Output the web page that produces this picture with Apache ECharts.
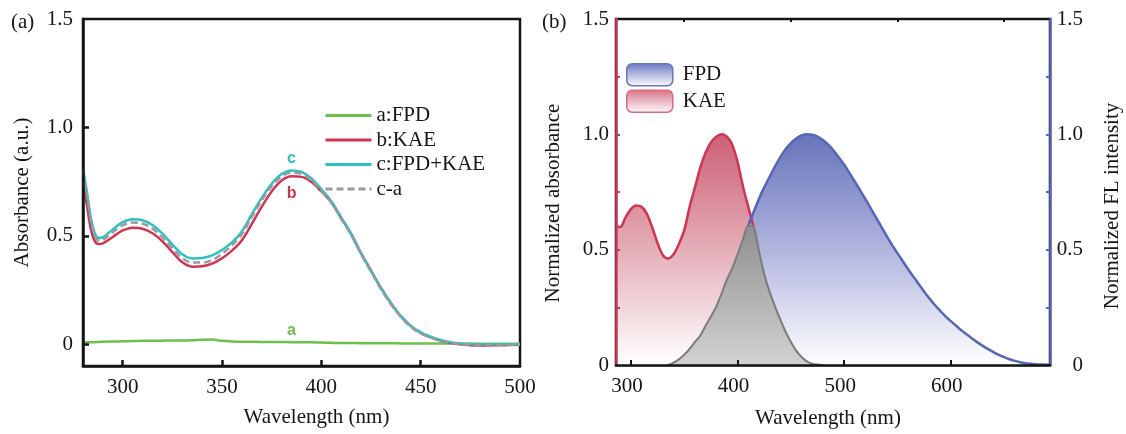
<!DOCTYPE html>
<html>
<head>
<meta charset="utf-8">
<script src="https://cdn.jsdelivr.net/npm/echarts@6/dist/echarts.min.js"></script>
<style>
  html, body { margin: 0; padding: 0; background: #ffffff; }
  #chart { width: 1126px; height: 434px; }
</style>
</head>
<body>
<div id="chart"></div>
<script>
// ---------- Panel (a): absorbance spectra ----------
const wavelengthA = [280, 282, 284, 286, 288, 290, 295, 300, 305, 310, 315, 320, 325, 330, 335, 340, 345, 350, 355, 360,
  365, 370, 375, 380, 385, 390, 395, 400, 405, 410, 415, 420, 425, 430, 435, 440, 445, 450, 455, 460,
  465, 470, 475, 480, 490, 500];
const absFPD = [0.008, 0.009, 0.010, 0.010, 0.011, 0.012, 0.013, 0.014, 0.015, 0.016, 0.016, 0.017, 0.018, 0.018, 0.019, 0.021, 0.022, 0.016, 0.013, 0.012,
  0.012, 0.011, 0.011, 0.011, 0.010, 0.010, 0.009, 0.008, 0.007, 0.006, 0.006, 0.005, 0.005, 0.005, 0.005, 0.004, 0.004, 0.004, 0.004, 0.004,
  0.004, 0.003, 0.003, 0.003, 0.003, 0.003];
const absKAE = [0.750, 0.640, 0.530, 0.475, 0.462, 0.465, 0.495, 0.525, 0.538, 0.533, 0.512, 0.475, 0.425, 0.378, 0.358, 0.360, 0.372, 0.397, 0.432, 0.480,
  0.555, 0.635, 0.705, 0.755, 0.775, 0.772, 0.748, 0.705, 0.655, 0.582, 0.508, 0.420, 0.340, 0.260, 0.190, 0.130, 0.085, 0.053, 0.032, 0.017,
  0.006, 0.000, -0.004, -0.006, -0.004, -0.002];
const absMix = [0.810, 0.700, 0.580, 0.510, 0.490, 0.493, 0.530, 0.563, 0.577, 0.572, 0.550, 0.510, 0.460, 0.415, 0.396, 0.398, 0.410, 0.435, 0.470, 0.520,
  0.600, 0.675, 0.740, 0.785, 0.802, 0.795, 0.765, 0.715, 0.660, 0.585, 0.510, 0.420, 0.340, 0.260, 0.190, 0.130, 0.085, 0.055, 0.035, 0.020,
  0.010, 0.004, 0.001, 0.000, 0.000, 0.000];
const absMixMinusFPD = [0.800, 0.690, 0.570, 0.500, 0.478, 0.481, 0.517, 0.549, 0.562, 0.556, 0.534, 0.493, 0.443, 0.397, 0.377, 0.377, 0.388, 0.418, 0.457, 0.508,
  0.588, 0.664, 0.729, 0.774, 0.792, 0.785, 0.756, 0.707, 0.653, 0.579, 0.504, 0.415, 0.335, 0.255, 0.185, 0.126, 0.081, 0.051, 0.031, 0.016,
  0.006, 0.001, -0.002, -0.003, -0.003, -0.002];
const xTicksA = [300, 350, 400, 450, 500];
const yTicksA = [0, 0.5, 1.0, 1.5];

// ---------- Panel (b): normalized KAE absorbance vs FPD emission ----------
const wavelengthB = [286, 290, 295, 300, 305, 310, 315, 320, 325, 330, 335, 340, 345, 350, 355, 360, 365, 370, 375, 380,
  385, 390, 395, 400, 405, 410, 415, 420, 425, 430, 435, 440, 445, 450, 455, 460, 465, 470, 475, 480,
  485, 490, 495, 500, 505, 510, 515, 520, 525, 530, 535, 540, 545, 550, 555, 560, 565, 570, 575, 580,
  585, 590, 595, 600, 605, 610, 615, 620, 625, 630, 635, 640, 645, 650, 655, 660, 665, 670, 675, 680,
  685, 690];
const normAbsKAE = [0.601, 0.598, 0.640, 0.676, 0.692, 0.686, 0.655, 0.596, 0.528, 0.476, 0.462, 0.480, 0.525, 0.585, 0.685, 0.770, 0.855, 0.920, 0.965, 0.990,
  1.000, 0.990, 0.955, 0.880, 0.775, 0.686, 0.600, 0.495, 0.395, 0.318, 0.255, 0.198, 0.145, 0.100, 0.062, 0.035, 0.016, 0.006, 0.002, 0.000,
  null, null, null, null, null, null, null, null, null, null, null, null, null, null, null, null, null, null, null, null,
  null, null, null, null, null, null, null, null, null, null, null, null, null, null, null, null, null, null, null, null,
  null, null];
const normFlFPD = [null, null, null, null, null, null, null, null, null, null, 0.000, 0.010, 0.025, 0.045, 0.070, 0.100, 0.128, 0.170, 0.210, 0.253,
  0.310, 0.370, 0.420, 0.480, 0.543, 0.605, 0.662, 0.720, 0.770, 0.815, 0.860, 0.900, 0.935, 0.962, 0.982, 0.995, 1.000, 0.998, 0.990, 0.975,
  0.955, 0.930, 0.900, 0.868, 0.832, 0.795, 0.757, 0.718, 0.678, 0.638, 0.598, 0.558, 0.520, 0.484, 0.450, 0.415, 0.382, 0.350, 0.318, 0.288,
  0.260, 0.235, 0.211, 0.190, 0.170, 0.150, 0.132, 0.115, 0.098, 0.083, 0.069, 0.056, 0.044, 0.034, 0.025, 0.018, 0.012, 0.008, 0.005, 0.002,
  0.001, 0.000];
const xTicksB = [300, 400, 500, 600];
const xMinorTicksB = [350, 450, 550, 650];
const yTicksB = [0.25, 0.5, 0.75, 1.0, 1.25];

// ---------- helpers ----------
const SERIF = '"Liberation Serif", "Times New Roman", serif';
const SANS = '"Liberation Sans", Arial, sans-serif';
const INK = '#151515';
const pairs = (xs, ys) => xs.map((x, i) => [x, ys[i]]);
const fmt = v => (v === 0 ? '0' : v.toFixed(1));
const vGrad = (stops) => new echarts.graphic.LinearGradient(0, 0, 0, 1,
  stops.map(([offset, color]) => ({ offset, color })));

// overlap region between the two spectra (lower of the two curves)
const overlapB = wavelengthB.map((_, i) => {
  const a = normAbsKAE[i], f = normFlFPD[i];
  if (a === null || f === null) return null;
  return Math.min(a, f);
});
// visible red edge: KAE where it lies above FPD (plus the next point)
const kaeEdge = wavelengthB.map((_, i) => {
  const above = j => normAbsKAE[j] !== null && (normFlFPD[j] === null || normAbsKAE[j] >= normFlFPD[j]);
  return (above(i) || (i > 0 && above(i - 1))) ? normAbsKAE[i] : null;
});
// visible blue edge: FPD where it lies above KAE (plus the previous point)
const fpdEdge = wavelengthB.map((_, i) => {
  const above = j => normFlFPD[j] !== null && (normAbsKAE[j] === null || normFlFPD[j] >= normAbsKAE[j]);
  return (above(i) || (i < wavelengthB.length - 1 && above(i + 1))) ? normFlFPD[i] : null;
});

const RED = '#cf3553';
const BLUE = '#5566b8';
const GREEN = '#6cc14a';
const CYAN = '#2fbfc7';
const GRAYDASH = '#9a9a9a';

const lineA = (name, ys, color, extra) => Object.assign({
  name, type: 'line', xAxisIndex: 0, yAxisIndex: 0,
  data: pairs(wavelengthA, ys), symbol: 'none', smooth: 0.35,
  lineStyle: { color, width: 2.5 }, itemStyle: { color }, silent: true
}, extra || {});

const letterMark = (letter, x, y, color) => ({
  symbol: 'rect', symbolSize: 1, silent: true,
  itemStyle: { color: 'rgba(0,0,0,0)' },
  label: { show: true, position: 'inside', formatter: letter, color,
    fontFamily: SANS, fontWeight: 'bold', fontSize: 16 },
  data: [{ coord: [x, y] }]
});

const chart = echarts.init(document.getElementById('chart'), null, { renderer: 'canvas' });

const axisText = { color: INK, fontFamily: SERIF, fontSize: 21 };

chart.setOption({
  animation: false,
  backgroundColor: '#ffffff',
  textStyle: { fontFamily: SERIF },
  graphic: [
    { type: 'text', left: 11, top: 12, style: { text: '(a)', font: '21px ' + SERIF, fill: INK } },
    { type: 'text', left: 542, top: 12, style: { text: '(b)', font: '21px ' + SERIF, fill: INK } }
  ],
  grid: [
    { left: 83, top: 19, width: 437, height: 347, show: true, borderColor: INK, borderWidth: 2.5, backgroundColor: 'transparent', z: 0 },
    { left: 616, top: 19, width: 434, height: 347, show: true, borderColor: INK, borderWidth: 2.5, backgroundColor: 'transparent', z: 0 }
  ],
  legend: [
    {
      left: 319, top: 100, orient: 'vertical',
      itemWidth: 46, itemHeight: 12, itemGap: 3.5,
      itemStyle: { opacity: 0, color: 'rgba(0,0,0,0)', borderWidth: 0 },
      lineStyle: { width: 3 },
      textStyle: { color: INK, fontFamily: SERIF, fontSize: 21, lineHeight: 21 },
      data: ['a:FPD', 'b:KAE', 'c:FPD+KAE', 'c-a'],
      selectedMode: false
    },
    {
      left: 621, top: 58, orient: 'vertical',
      icon: 'roundRect', itemWidth: 46, itemHeight: 22, itemGap: 3,
      textStyle: { color: INK, fontFamily: SERIF, fontSize: 21, padding: [0, 0, 0, 5] },
      selectedMode: false,
      data: [
        { name: 'FPD', itemStyle: { color: vGrad([[0, '#6a78c0'], [1, '#ffffff']]), borderColor: '#6676c4', borderWidth: 1.5 } },
        { name: 'KAE', itemStyle: { color: vGrad([[0, '#d77186'], [1, '#ffffff']]), borderColor: '#dc6b80', borderWidth: 1.5 } }
      ]
    }
  ],
  xAxis: [
    {
      gridIndex: 0, type: 'value', min: 280, max: 500, z: 10,
      name: 'Wavelength (nm)', nameLocation: 'middle', nameGap: 41,
      nameTextStyle: Object.assign({}, axisText, { padding: [0, 0, 0, 30] }),
      axisLine: { show: true, onZero: false, lineStyle: { color: INK, width: 2.5 } },
      axisTick: { show: true, inside: true, length: 6, lineStyle: { color: INK, width: 2.5 }, customValues: xTicksA.slice(0, 4) },
      axisLabel: Object.assign({ margin: 11, customValues: xTicksA }, axisText),
      splitLine: { show: false }
    },
    {
      gridIndex: 1, type: 'value', min: 286, max: 693, z: 10,
      name: 'Wavelength (nm)', nameLocation: 'middle', nameGap: 43,
      nameTextStyle: Object.assign({}, axisText, { padding: [0, 10, 0, 0] }),
      axisLine: { show: true, onZero: false, lineStyle: { color: INK, width: 2.5 } },
      axisTick: { show: true, inside: true, length: 5, lineStyle: { color: INK, width: 2 }, customValues: xTicksB },
      axisLabel: Object.assign({ margin: 11, customValues: xTicksB, padding: [0, 8, 0, 0] }, axisText),
      splitLine: { show: false }
    },
    {
      gridIndex: 1, type: 'value', min: 286, max: 693, z: 10,
      axisLine: { show: false, onZero: false },
      axisTick: { show: true, inside: true, length: 3, lineStyle: { color: INK, width: 2 }, customValues: xMinorTicksB },
      axisLabel: { show: false },
      splitLine: { show: false }
    }
  ],
  yAxis: [
    {
      gridIndex: 0, type: 'value', min: -0.1, max: 1.5, z: 10,
      name: 'Absorbance (a.u.)', nameLocation: 'middle', nameGap: 50, nameRotate: 90,
      nameTextStyle: axisText,
      axisLine: { show: true, onZero: false, lineStyle: { color: INK, width: 2.5 } },
      axisTick: { show: true, inside: true, length: 6, lineStyle: { color: INK, width: 2.5 }, customValues: yTicksA.slice(0, 3) },
      axisLabel: Object.assign({ margin: 10, customValues: yTicksA, formatter: fmt }, axisText),
      splitLine: { show: false }
    },
    {
      gridIndex: 1, type: 'value', min: 0, max: 1.5, interval: 0.5, position: 'left', z: 10,
      name: 'Normalized absorbance', nameLocation: 'middle', nameGap: 52, nameRotate: 90,
      nameTextStyle: Object.assign({}, axisText, { padding: [0, 22, 0, 0] }),
      axisLine: { show: true, onZero: false, lineStyle: { color: RED, width: 2.5 } },
      axisTick: { show: true, inside: true, length: 4, lineStyle: { color: RED, width: 2 }, customValues: yTicksB },
      axisLabel: Object.assign({ margin: 7, formatter: fmt, padding: [6, 0, 0, 0] }, axisText),
      splitLine: { show: false }
    },
    {
      gridIndex: 1, type: 'value', min: 0, max: 1.5, interval: 0.5, position: 'right', z: 10,
      name: 'Normalized FL intensity', nameLocation: 'middle', nameGap: 52, nameRotate: 90,
      nameTextStyle: Object.assign({}, axisText, { padding: [0, 28, 0, 0] }),
      axisLine: { show: true, onZero: false, lineStyle: { color: BLUE, width: 2.5 } },
      axisTick: { show: true, inside: true, length: 4, lineStyle: { color: BLUE, width: 2 }, customValues: yTicksB },
      axisLabel: Object.assign({ margin: 33, align: 'right', formatter: fmt, padding: [12, 0, 0, 0] }, axisText),
      splitLine: { show: false }
    }
  ],
  series: [
    // panel (a)
    lineA('a:FPD', absFPD, GREEN, { z: 2, markPoint: letterMark('a', 385, 0.061, GREEN) }),
    lineA('b:KAE', absKAE, RED, { z: 3, markPoint: letterMark('b', 385, 0.693, '#c8364f') }),
    lineA('c:FPD+KAE', absMix, CYAN, { z: 4, markPoint: letterMark('c', 385, 0.858, CYAN) }),
    lineA('c-a', absMixMinusFPD, GRAYDASH, { z: 5, lineStyle: { color: GRAYDASH, width: 2.5, type: [7, 4] } }),

    // panel (b): filled spectra
    {
      name: 'KAE', type: 'line', xAxisIndex: 1, yAxisIndex: 1, z: 2, silent: true,
      data: pairs(wavelengthB, normAbsKAE), symbol: 'none', smooth: 0.3,
      lineStyle: { width: 0 }, itemStyle: { color: '#d77186' },
      areaStyle: { opacity: 1, color: vGrad([[0, '#cc5f76'], [0.45, '#e2a6b1'], [1, '#ffffff']]) }
    },
    {
      name: 'FPD', type: 'line', xAxisIndex: 1, yAxisIndex: 2, z: 3, silent: true,
      data: pairs(wavelengthB, normFlFPD), symbol: 'none', smooth: 0.3,
      lineStyle: { width: 0 }, itemStyle: { color: '#6a78c0' },
      areaStyle: { opacity: 1, color: vGrad([[0, '#6874ba'], [0.45, '#a9aedb'], [1, '#ffffff']]) }
    },
    {
      name: 'overlap', type: 'line', xAxisIndex: 1, yAxisIndex: 1, z: 4, silent: true,
      data: pairs(wavelengthB, overlapB), symbol: 'none', smooth: 0.3,
      lineStyle: { width: 0 },
      areaStyle: { opacity: 1, color: vGrad([[0, '#8f8f8f'], [1, '#d2d2d2']]) }
    },
    // panel (b): curve outlines
    {
      name: 'KAE edge', type: 'line', xAxisIndex: 1, yAxisIndex: 1, z: 5, silent: true,
      data: pairs(wavelengthB, kaeEdge), symbol: 'none', smooth: 0.3,
      lineStyle: { color: RED, width: 2.5 }
    },
    {
      name: 'FPD edge', type: 'line', xAxisIndex: 1, yAxisIndex: 2, z: 5, silent: true,
      data: pairs(wavelengthB, fpdEdge), symbol: 'none', smooth: 0.3,
      lineStyle: { color: BLUE, width: 2.5 }
    },
    {
      name: 'overlap edge', type: 'line', xAxisIndex: 1, yAxisIndex: 1, z: 6, silent: true,
      data: pairs(wavelengthB, overlapB), symbol: 'none', smooth: 0.3,
      lineStyle: { color: '#7b7b7b', width: 2 }
    }
  ]
});
</script>
</body>
</html>
